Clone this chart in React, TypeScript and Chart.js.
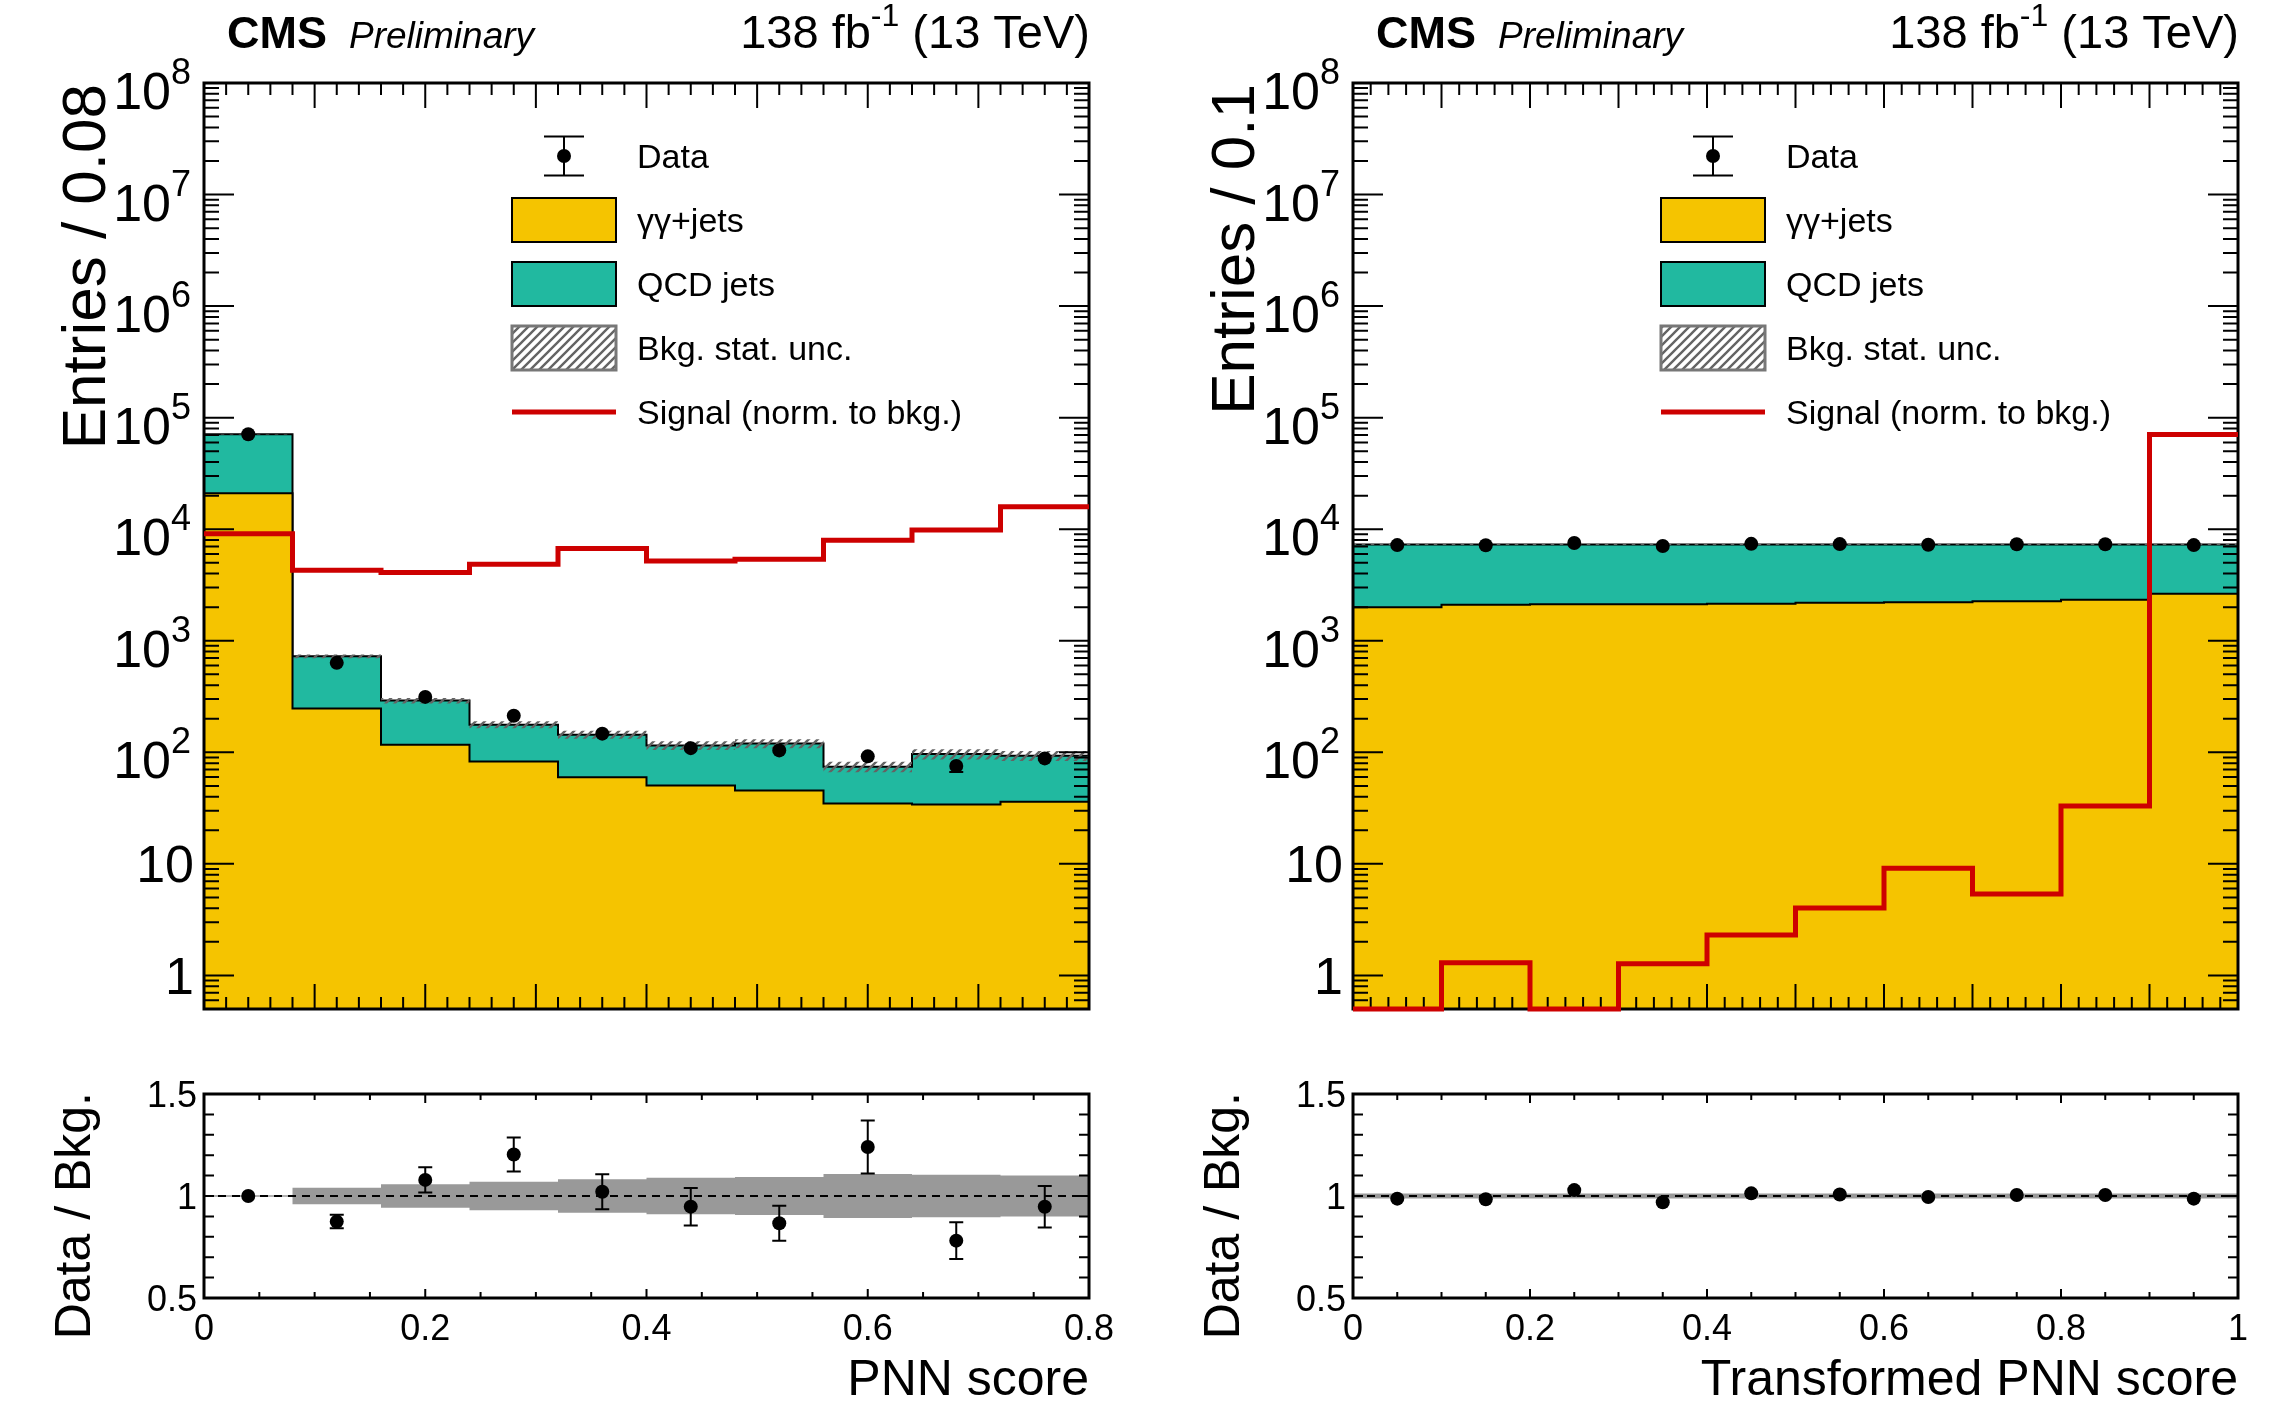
import { useEffect, useRef } from "react";
import { Chart, registerables } from "chart.js";

Chart.register(...registerables);

// ---------------- data ----------------
const leftBinEdges = [0, 0.08, 0.16, 0.24, 0.32, 0.4, 0.48, 0.56, 0.64, 0.72, 0.8];
const leftGammaJets = [21000, 247, 117, 82.8, 59.8, 50.4, 45.4, 34.7, 34.0, 36.1];
const leftQCDJets = [50000, 478, 174, 94.2, 84.2, 64.6, 74.6, 39.5, 62.4, 57.0];
const leftData = [71000, 634, 314, 213, 147, 109, 104, 92, 75.3, 88.2];
const leftDataRelErr = [0.005, 0.033, 0.062, 0.083, 0.086, 0.092, 0.086, 0.13, 0.09, 0.102];
const leftBkgRelUnc = [0.004, 0.04, 0.057, 0.07, 0.082, 0.09, 0.093, 0.108, 0.104, 0.101];
const leftSignal = [9100, 4280, 4100, 4840, 6700, 5190, 5370, 7960, 9860, 15900];

const rightBinEdges = [0, 0.1, 0.2, 0.3, 0.4, 0.5, 0.6, 0.7, 0.8, 0.9, 1.0];
const rightGammaJets = [2000, 2100, 2128, 2128, 2144, 2188, 2220, 2265, 2330, 2636];
const rightQCDJets = [5300, 5200, 5172, 5172, 5156, 5112, 5080, 5035, 4970, 4664];
const rightData = [7205, 7183, 7512, 7074, 7395, 7351, 7264, 7337, 7337, 7205];
const rightDataRelErr = [0.012, 0.012, 0.012, 0.012, 0.012, 0.012, 0.012, 0.012, 0.012, 0.012];
const rightBkgRelUnc = [0.012, 0.012, 0.012, 0.012, 0.012, 0.012, 0.012, 0.012, 0.012, 0.012];
const rightSignal = [0.5, 1.3, 0.5, 1.27, 2.3, 4.02, 9.14, 5.37, 33.0, 70600];

const logTickExponents = [0, 1, 2, 3, 4, 5, 6, 7, 8];
const ratioTickValues = [0.5, 1, 1.5];
const ratioTickLabels = ["0.5", "1", "1.5"];
const leftXTickValues = [0, 0.2, 0.4, 0.6, 0.8];
const leftXTickLabels = ["0", "0.2", "0.4", "0.6", "0.8"];
const rightXTickValues = [0, 0.2, 0.4, 0.6, 0.8, 1.0];
const rightXTickLabels = ["0", "0.2", "0.4", "0.6", "0.8", "1"];

const legendLabels = ["Data", "\u03b3\u03b3+jets", "QCD jets", "Bkg. stat. unc.", "Signal (norm. to bkg.)"];

// ---------------- layout & style ----------------
const W = 2284;
const H = 1424;
const FONT = '"Liberation Sans", Arial, Helvetica, sans-serif';
const MAIN_TOP = 83;
const MAIN_BOTTOM = 1009;
const RATIO_TOP = 1094;
const RATIO_BOTTOM = 1298;
const TEXT_BASE = 48;

const YELLOW = "rgb(245,196,0)";
const TEAL = "rgb(33,185,160)";
const RED = "rgb(205,0,0)";
const GREY = "rgb(153,153,153)";

interface PanelCfg {
  edges: number[];
  gj: number[];
  qcd: number[];
  data: number[];
  dataErr: number[];
  bkgUnc: number[];
  signal: number[];
  yTitle: string;
  xTitle: string;
  xTickValues: number[];
  xTickLabels: string[];
  L: number;
  R: number;
  xMax: number;
}

const leftCfg: PanelCfg = {
  edges: leftBinEdges,
  gj: leftGammaJets,
  qcd: leftQCDJets,
  data: leftData,
  dataErr: leftDataRelErr,
  bkgUnc: leftBkgRelUnc,
  signal: leftSignal,
  yTitle: "Entries / 0.08",
  xTitle: "PNN score",
  xTickValues: leftXTickValues,
  xTickLabels: leftXTickLabels,
  L: 204,
  R: 1089,
  xMax: 0.8,
};

const rightCfg: PanelCfg = {
  edges: rightBinEdges,
  gj: rightGammaJets,
  qcd: rightQCDJets,
  data: rightData,
  dataErr: rightDataRelErr,
  bkgUnc: rightBkgRelUnc,
  signal: rightSignal,
  yTitle: "Entries / 0.1",
  xTitle: "Transformed PNN score",
  xTickValues: rightXTickValues,
  xTickLabels: rightXTickLabels,
  L: 1353,
  R: 2238,
  xMax: 1.0,
};

function makeHatch(): CanvasPattern | string {
  const s = 9;
  const tile = document.createElement("canvas");
  tile.width = s;
  tile.height = s;
  const g = tile.getContext("2d");
  if (!g) return "rgba(110,110,110,0.6)";
  g.strokeStyle = "#646464";
  g.lineWidth = 2.4;
  g.beginPath();
  g.moveTo(-1, s + 1);
  g.lineTo(s + 1, -1);
  g.moveTo(-3, 3);
  g.lineTo(3, -3);
  g.moveTo(s - 3, s + 3);
  g.lineTo(s + 3, s - 3);
  g.stroke();
  const p = g.createPattern(tile, "repeat");
  return p || "rgba(110,110,110,0.6)";
}

function stepPoints(edges: number[], vals: number[]) {
  const pts = vals.map((v, i) => ({ x: edges[i], y: v }));
  pts.push({ x: edges[vals.length], y: vals[vals.length - 1] });
  return pts;
}

function binCenters(edges: number[], n: number) {
  const c: number[] = [];
  for (let i = 0; i < n; i++) c.push((edges[i] + edges[i + 1]) / 2);
  return c;
}

function drawRotatedTitle(ctx: CanvasRenderingContext2D, text: string, baseX: number, endY: number, font: string) {
  ctx.save();
  ctx.translate(baseX, endY);
  ctx.rotate(-Math.PI / 2);
  ctx.font = font;
  ctx.fillStyle = "#000";
  ctx.textAlign = "right";
  ctx.textBaseline = "alphabetic";
  ctx.fillText(text, 0, 0);
  ctx.restore();
}

function drawErrorBars(
  ctx: CanvasRenderingContext2D,
  xs: any,
  ys: any,
  centers: number[],
  vals: number[],
  errs: number[],
  top: number,
  bottom: number,
  minLen: number
) {
  ctx.save();
  ctx.strokeStyle = "#000";
  ctx.lineWidth = 2;
  ctx.beginPath();
  for (let i = 0; i < vals.length; i++) {
    const px = xs.getPixelForValue(centers[i]);
    const py = ys.getPixelForValue(vals[i]);
    const pHi = Math.max(top, ys.getPixelForValue(vals[i] + errs[i]));
    const pLo = Math.min(bottom, ys.getPixelForValue(Math.max(vals[i] - errs[i], 1e-6)));
    if (py - pHi > minLen) {
      ctx.moveTo(px, py);
      ctx.lineTo(px, pHi);
      ctx.moveTo(px - 7, pHi);
      ctx.lineTo(px + 7, pHi);
    }
    if (pLo - py > minLen) {
      ctx.moveTo(px, py);
      ctx.lineTo(px, pLo);
      ctx.moveTo(px - 7, pLo);
      ctx.lineTo(px + 7, pLo);
    }
  }
  ctx.stroke();
  ctx.restore();
}

function buildMain(canvas: HTMLCanvasElement, p: PanelCfg) {
  const total = p.gj.map((v, i) => v + p.qcd[i]);
  const centers = binCenters(p.edges, p.data.length);
  const hatch = makeHatch();
  const absErr = p.dataErr.map((e, i) => e * total[i]);

  const drawAxes = (chart: any) => {
    const ctx: CanvasRenderingContext2D = chart.ctx;
    const { left, right, top, bottom } = chart.chartArea;
    const xs = chart.scales.x;
    const ys = chart.scales.y;
    ctx.save();
    ctx.strokeStyle = "#000";
    ctx.lineWidth = 2;
    ctx.beginPath();
    const nx = Math.round(p.xMax / 0.02);
    for (let i = 0; i <= nx; i++) {
      const px = xs.getPixelForValue(i * 0.02);
      const len = i % 5 === 0 ? 25 : 12;
      ctx.moveTo(px, bottom);
      ctx.lineTo(px, bottom - len);
      ctx.moveTo(px, top);
      ctx.lineTo(px, top + len);
    }
    for (let e = -1; e <= 8; e++) {
      for (let m = 1; m <= 9; m++) {
        const v = m * Math.pow(10, e);
        if (v < ys.min * 0.999 || v > ys.max * 1.001) continue;
        const py = ys.getPixelForValue(v);
        const len = m === 1 ? 30 : 15;
        ctx.moveTo(left, py);
        ctx.lineTo(left + len, py);
        ctx.moveTo(right, py);
        ctx.lineTo(right - len, py);
      }
    }
    ctx.stroke();
    ctx.lineWidth = 3;
    ctx.strokeRect(left, top, right - left, bottom - top);
    ctx.restore();
  };

  const plugin = {
    id: "mainPanel",
    beforeDatasetDraw(chart: any, args: any) {
      if (args.index === 1) drawAxes(chart);
      if (args.index !== 0) return;
      const { top, bottom } = chart.chartArea;
      drawErrorBars(chart.ctx, chart.scales.x, chart.scales.y, centers, p.data, absErr, top, bottom, 5.8);
    },
    afterDatasetsDraw(chart: any) {
      const ctx: CanvasRenderingContext2D = chart.ctx;
      const { left, right, top } = chart.chartArea;
      const ys = chart.scales.y;
      ctx.save();

      // y labels
      ctx.fillStyle = "#000";
      ctx.textBaseline = "alphabetic";
      ctx.textAlign = "right";
      for (const e of logTickExponents) {
        const py = ys.getPixelForValue(Math.pow(10, e));
        if (e === 0 || e === 1) {
          ctx.font = `52px ${FONT}`;
          ctx.fillText(e === 0 ? "1" : "10", left - 10, py + 18.5);
        } else {
          ctx.font = `36px ${FONT}`;
          const s = String(e);
          const sw = ctx.measureText(s).width;
          ctx.fillText(s, left - 13, py + 1);
          ctx.font = `52px ${FONT}`;
          ctx.fillText("10", left - 13 - sw, py + 26);
        }
      }

      // y title
      drawRotatedTitle(ctx, p.yTitle, left - 99, top + 1, `62px ${FONT}`);

      // CMS label & lumi
      ctx.textAlign = "left";
      ctx.font = `bold 45px ${FONT}`;
      ctx.fillText("CMS", left + 23, TEXT_BASE);
      ctx.font = `italic 37px ${FONT}`;
      ctx.fillText("Preliminary", left + 145, TEXT_BASE);
      const f1 = `47px ${FONT}`;
      const fs = `32px ${FONT}`;
      ctx.font = f1;
      const w1 = ctx.measureText("138 fb").width;
      const w3 = ctx.measureText(" (13 TeV)").width;
      ctx.font = fs;
      const w2 = ctx.measureText("-1").width;
      let x = right + 1 - (w1 + w2 + w3);
      ctx.font = f1;
      ctx.fillText("138 fb", x, TEXT_BASE);
      x += w1;
      ctx.font = fs;
      ctx.fillText("-1", x, TEXT_BASE - 22);
      x += w2;
      ctx.font = f1;
      ctx.fillText(" (13 TeV)", x, TEXT_BASE);

      // legend
      const lx0 = left + 308;
      const lx1 = left + 412;
      const lxc = (lx0 + lx1) / 2;
      const tx = left + 433;
      const rows = [top + 73, top + 137, top + 201, top + 265, top + 329];
      ctx.strokeStyle = "#000";
      ctx.lineWidth = 2;
      ctx.beginPath();
      ctx.moveTo(lxc, rows[0] - 19.5);
      ctx.lineTo(lxc, rows[0] + 19.5);
      ctx.moveTo(lxc - 20, rows[0] - 19.5);
      ctx.lineTo(lxc + 20, rows[0] - 19.5);
      ctx.moveTo(lxc - 20, rows[0] + 19.5);
      ctx.lineTo(lxc + 20, rows[0] + 19.5);
      ctx.stroke();
      ctx.beginPath();
      ctx.arc(lxc, rows[0], 7, 0, Math.PI * 2);
      ctx.fillStyle = "#000";
      ctx.fill();
      const bh = 44;
      ctx.fillStyle = YELLOW;
      ctx.fillRect(lx0, rows[1] - bh / 2, lx1 - lx0, bh);
      ctx.strokeStyle = "#000";
      ctx.lineWidth = 2;
      ctx.strokeRect(lx0, rows[1] - bh / 2, lx1 - lx0, bh);
      ctx.fillStyle = TEAL;
      ctx.fillRect(lx0, rows[2] - bh / 2, lx1 - lx0, bh);
      ctx.strokeRect(lx0, rows[2] - bh / 2, lx1 - lx0, bh);
      ctx.fillStyle = "#fff";
      ctx.fillRect(lx0, rows[3] - bh / 2, lx1 - lx0, bh);
      ctx.fillStyle = hatch as any;
      ctx.fillRect(lx0, rows[3] - bh / 2, lx1 - lx0, bh);
      ctx.strokeStyle = "#777";
      ctx.lineWidth = 3;
      ctx.strokeRect(lx0, rows[3] - bh / 2, lx1 - lx0, bh);
      ctx.strokeStyle = RED;
      ctx.lineWidth = 5;
      ctx.beginPath();
      ctx.moveTo(lx0, rows[4]);
      ctx.lineTo(lx1, rows[4]);
      ctx.stroke();
      ctx.fillStyle = "#000";
      ctx.font = `34px ${FONT}`;
      ctx.textAlign = "left";
      legendLabels.forEach((t, k) => ctx.fillText(t, tx, rows[k] + 12));
      ctx.restore();
    },
  };

  return new Chart(canvas, {
    type: "line",
    data: {
      datasets: [
        {
          label: "Data",
          type: "scatter",
          data: p.data.map((v, i) => ({ x: centers[i], y: v })),
          pointRadius: 7,
          pointHoverRadius: 7,
          pointBackgroundColor: "#000",
          pointBorderColor: "#000",
          pointBorderWidth: 0,
          showLine: false,
          order: 0,
        } as any,
        {
          label: "Signal",
          data: stepPoints(p.edges, p.signal),
          stepped: "before",
          borderColor: RED,
          borderWidth: 5,
          pointRadius: 0,
          fill: false,
          clip: 3,
          order: 1,
        } as any,
        {
          label: "uncLow",
          data: stepPoints(p.edges, total.map((t, i) => t * (1 - p.bkgUnc[i]))),
          stepped: "before",
          borderColor: "rgba(0,0,0,0)",
          borderWidth: 0,
          pointRadius: 0,
          fill: false,
          order: 2,
        },
        {
          label: "uncHigh",
          data: stepPoints(p.edges, total.map((t, i) => t * (1 + p.bkgUnc[i]))),
          stepped: "before",
          borderColor: "rgba(0,0,0,0)",
          borderWidth: 0,
          pointRadius: 0,
          fill: { target: 2 },
          backgroundColor: hatch as any,
          order: 2,
        },
        {
          label: "gammaJets",
          data: stepPoints(p.edges, p.gj),
          stepped: "before",
          borderColor: "#000",
          borderWidth: 2,
          pointRadius: 0,
          fill: "start",
          backgroundColor: YELLOW,
          order: 3,
        },
        {
          label: "QCD",
          data: stepPoints(p.edges, total),
          stepped: "before",
          borderColor: "#000",
          borderWidth: 2,
          pointRadius: 0,
          fill: { target: 4 },
          backgroundColor: TEAL,
          order: 4,
        },
      ],
    },
    options: {
      animation: false,
      responsive: false,
      events: [],
      layout: {
        autoPadding: false,
        padding: { left: p.L, right: W - p.R, top: MAIN_TOP, bottom: H - MAIN_BOTTOM },
      },
      scales: {
        x: { type: "linear", min: 0, max: p.xMax, display: false, offset: false },
        y: { type: "logarithmic", min: 0.5, max: 1e8, display: false },
      },
      plugins: { legend: { display: false }, tooltip: { enabled: false } },
    } as any,
    plugins: [plugin],
  });
}

function buildRatio(canvas: HTMLCanvasElement, p: PanelCfg) {
  const total = p.gj.map((v, i) => v + p.qcd[i]);
  const centers = binCenters(p.edges, p.data.length);
  const ratio = p.data.map((d, i) => d / total[i]);

  const plugin = {
    id: "ratioPanel",
    beforeDatasetDraw(chart: any, args: any) {
      if (args.index !== 0) return;
      const { top, bottom } = chart.chartArea;
      drawErrorBars(chart.ctx, chart.scales.x, chart.scales.y, centers, ratio, p.dataErr, top, bottom, 4.5);
    },
    afterDatasetsDraw(chart: any) {
      const ctx: CanvasRenderingContext2D = chart.ctx;
      const { left, right, top, bottom } = chart.chartArea;
      const xs = chart.scales.x;
      const ys = chart.scales.y;
      ctx.save();
      ctx.strokeStyle = "#000";
      ctx.lineWidth = 2;
      ctx.beginPath();
      for (let i = 0; i <= 10; i++) {
        const py = ys.getPixelForValue(0.5 + i * 0.1);
        ctx.moveTo(left, py);
        ctx.lineTo(left + 10, py);
        ctx.moveTo(right, py);
        ctx.lineTo(right - 10, py);
      }
      const nx = Math.round(p.xMax / 0.05);
      for (let i = 0; i <= nx; i++) {
        const px = xs.getPixelForValue(i * 0.05);
        const len = i % 4 === 0 ? 9 : 6;
        ctx.moveTo(px, bottom);
        ctx.lineTo(px, bottom - len);
        ctx.moveTo(px, top);
        ctx.lineTo(px, top + len);
      }
      ctx.stroke();
      ctx.lineWidth = 3;
      ctx.strokeRect(left, top, right - left, bottom - top);

      ctx.fillStyle = "#000";
      ctx.font = `36px ${FONT}`;
      ctx.textBaseline = "alphabetic";
      ctx.textAlign = "right";
      ratioTickValues.forEach((v, k) => {
        const py = ys.getPixelForValue(v);
        ctx.fillText(ratioTickLabels[k], left - 7, py + 13);
      });
      ctx.textAlign = "center";
      p.xTickValues.forEach((v, k) => {
        const px = xs.getPixelForValue(v);
        ctx.fillText(p.xTickLabels[k], px, 1340);
      });
      ctx.font = `50px ${FONT}`;
      ctx.textAlign = "right";
      ctx.fillText(p.xTitle, right, 1395);
      drawRotatedTitle(ctx, "Data / Bkg.", left - 114, top - 2, `50px ${FONT}`);
      ctx.restore();
    },
  };

  return new Chart(canvas, {
    type: "line",
    data: {
      datasets: [
        {
          label: "Ratio",
          type: "scatter",
          data: ratio.map((r, i) => ({ x: centers[i], y: r })),
          pointRadius: 7,
          pointHoverRadius: 7,
          pointBackgroundColor: "#000",
          pointBorderColor: "#000",
          pointBorderWidth: 0,
          showLine: false,
          order: 0,
        } as any,
        {
          label: "unity",
          data: [
            { x: 0, y: 1 },
            { x: p.xMax, y: 1 },
          ],
          borderColor: "#000",
          borderWidth: 2,
          borderDash: [8, 6],
          pointRadius: 0,
          fill: false,
          order: 1,
        },
        {
          label: "bandLow",
          data: stepPoints(p.edges, p.bkgUnc.map((u) => 1 - u)),
          stepped: "before",
          borderColor: "rgba(0,0,0,0)",
          borderWidth: 0,
          pointRadius: 0,
          fill: false,
          order: 2,
        },
        {
          label: "bandHigh",
          data: stepPoints(p.edges, p.bkgUnc.map((u) => 1 + u)),
          stepped: "before",
          borderColor: "rgba(0,0,0,0)",
          borderWidth: 0,
          pointRadius: 0,
          fill: { target: 2 },
          backgroundColor: GREY,
          order: 2,
        },
      ],
    },
    options: {
      animation: false,
      responsive: false,
      events: [],
      layout: {
        autoPadding: false,
        padding: { left: p.L, right: W - p.R, top: RATIO_TOP, bottom: H - RATIO_BOTTOM },
      },
      scales: {
        x: { type: "linear", min: 0, max: p.xMax, display: false, offset: false },
        y: { type: "linear", min: 0.5, max: 1.5, display: false },
      },
      plugins: { legend: { display: false }, tooltip: { enabled: false } },
    } as any,
    plugins: [plugin],
  });
}

export default function App() {
  const r1 = useRef<HTMLCanvasElement>(null);
  const r2 = useRef<HTMLCanvasElement>(null);
  const r3 = useRef<HTMLCanvasElement>(null);
  const r4 = useRef<HTMLCanvasElement>(null);

  useEffect(() => {
    const charts: Chart[] = [];
    if (r1.current) charts.push(buildMain(r1.current, leftCfg));
    if (r2.current) charts.push(buildRatio(r2.current, leftCfg));
    if (r3.current) charts.push(buildMain(r3.current, rightCfg));
    if (r4.current) charts.push(buildRatio(r4.current, rightCfg));
    return () => charts.forEach((c) => c.destroy());
  }, []);

  const cs: React.CSSProperties = { position: "absolute", left: 0, top: 0, width: W, height: H, display: "block" };
  return (
    <div style={{ position: "absolute", left: 0, top: 0, width: W, height: H, background: "#fff", overflow: "hidden" }}>
      <canvas ref={r1} width={W} height={H} style={cs} />
      <canvas ref={r2} width={W} height={H} style={cs} />
      <canvas ref={r3} width={W} height={H} style={cs} />
      <canvas ref={r4} width={W} height={H} style={cs} />
    </div>
  );
}
